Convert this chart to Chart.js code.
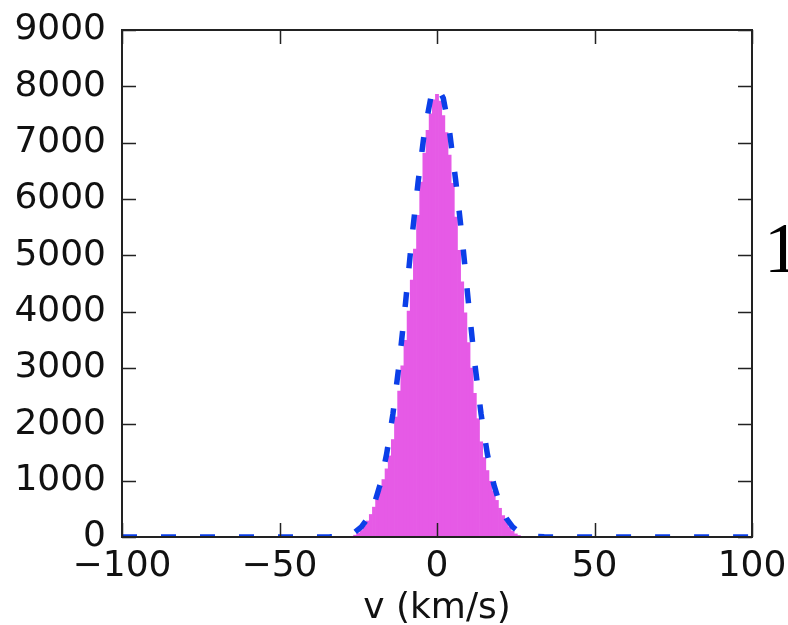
<!DOCTYPE html>
<html>
<head>
<meta charset="utf-8">
<script src="https://cdn.jsdelivr.net/npm/chart.js@4/dist/chart.umd.min.js"></script>
<style>
  html, body { margin: 0; padding: 0; background: #fff; overflow: hidden; }
  #wrap { position: relative; width: 788px; height: 625px; }
  #side-label {
    position: absolute; left: 764px; top: 212px;
    font-family: "Liberation Serif", "DejaVu Serif", serif;
    font-size: 72px; line-height: 1; color: #000;
  }
</style>
</head>
<body>
<div id="wrap">
  <canvas id="hist" width="788" height="625"></canvas>
  <div id="side-label">1</div>
</div>
<script>
// histogram bins (centre, km/s, 1 km/s wide) and counts
const binCentres = [-27, -26, -25, -24, -23, -22, -21, -20, -19, -18, -17, -16, -15, -14, -13, -12, -11, -10,
  -9, -8, -7, -6, -5, -4, -3, -2, -1, 0, 1, 2, 3, 4, 5, 6, 7, 8, 9,
  10, 11, 12, 13, 14, 15, 16, 17, 18, 19, 20, 21, 22, 23, 24, 25, 26, 27];
const binCounts = [12, 32, 65, 115, 195, 285, 400, 530, 670, 840, 1020, 1210, 1440, 1730, 2130, 2590, 3040, 3490,
  4010, 4560, 5110, 5710, 6300, 6810, 7220, 7510, 7760, 7860, 7740, 7480, 7180, 6780, 6280, 5680, 5090, 4530, 3980,
  3450, 3000, 2550, 2100, 1690, 1410, 1180, 990, 810, 650, 510, 380, 270, 180, 105, 55, 28, 10];

// dashed model curve
const fitV = [-100, -40, -34, -30, -28, -26, -24, -22, -20, -18, -16, -14, -12, -10, -8, -6, -4, -2, 0,
  2, 4, 6, 8, 10, 12, 14, 16, 18, 20, 22, 24, 26, 28, 30, 34, 40, 100];
const fitCounts = [0, 0, 3, 18, 40, 90, 180, 330, 570, 940, 1470, 2180, 3080, 4150, 5300, 6300, 7190, 7790, 8000,
  7790, 7190, 6300, 5300, 4150, 3080, 2180, 1470, 940, 570, 330, 180, 90, 40, 18, 3, 0, 0];

const xTickValues = [-100, -50, 0, 50, 100];
const yTickValues = [0, 1000, 2000, 3000, 4000, 5000, 6000, 7000, 8000, 9000];

const axisFont = { family: 'DejaVu Sans', size: 36 };

// frame and inward tick marks, drawn over the data like matplotlib does
const frameTicks = {
  id: 'frameTicks',
  afterDatasetsDraw(chart) {
    const { ctx, chartArea: a, scales } = chart;
    const len = 14;
    ctx.save();
    ctx.strokeStyle = '#222';
    ctx.lineWidth = 1.5;
    ctx.beginPath();
    xTickValues.forEach((v) => {
      const px = Math.round(scales.x.getPixelForValue(v)) + 0.5;
      ctx.moveTo(px, a.bottom); ctx.lineTo(px, a.bottom - len);
      ctx.moveTo(px, a.top); ctx.lineTo(px, a.top + len);
    });
    yTickValues.forEach((v) => {
      const py = Math.round(scales.y.getPixelForValue(v)) + 0.5;
      ctx.moveTo(a.left, py); ctx.lineTo(a.left + len, py);
      ctx.moveTo(a.right, py); ctx.lineTo(a.right - len, py);
    });
    ctx.stroke();
    ctx.lineWidth = 2;
    ctx.strokeRect(a.left, a.top, a.right - a.left, a.bottom - a.top);
    ctx.restore();
  },
};

// eslint-disable-next-line no-undef,no-unused-vars
const chart = new Chart(document.getElementById('hist').getContext('2d'), {
  type: 'bar',
  data: {
    datasets: [{
      type: 'line',
      data: fitV.map((v, i) => ({ x: v, y: fitCounts[i] })),
      borderColor: '#0b3fe8',
      borderWidth: 5.5,
      borderDash: [15, 24],
      pointRadius: 0,
      tension: 0,
      clip: 0,
      order: 0,
    }, {
      data: binCentres.map((v, i) => ({ x: v, y: binCounts[i] })),
      backgroundColor: '#e65ae6',
      borderWidth: 0,
      barPercentage: 1,
      categoryPercentage: 1,
      order: 1,
    }],
  },
  options: {
    responsive: false,
    animation: false,
    layout: { padding: { left: 0, right: 36, top: 30, bottom: 0 } },
    plugins: { legend: { display: false }, tooltip: { enabled: false } },
    scales: {
      x: {
        type: 'linear',
        offset: false,
        min: -100,
        max: 100,
        afterBuildTicks: (s) => { s.ticks = xTickValues.map((v) => ({ value: v })); },
        afterFit: (s) => {
          s.height = 88;
          s.paddingLeft = 0;
          s.paddingRight = 0;
        },
        grid: { display: false, drawTicks: false, offset: false },
        border: { display: false },
        ticks: {
          padding: 8,
          color: '#111',
          font: axisFont,
          maxRotation: 0,
          callback: (v) => String(v).replace('-', '\u2212'),
        },
        title: {
          display: true,
          text: 'v (km/s)',
          color: '#111',
          font: { family: 'DejaVu Sans', size: 36 },
          padding: { top: 0, bottom: -5 },
        },
      },
      y: {
        min: 0,
        max: 9000,
        afterBuildTicks: (s) => { s.ticks = yTickValues.map((v) => ({ value: v })); },
        afterFit: (s) => {
          s.width = 122;
          s.paddingTop = 0;
          s.paddingBottom = 0;
        },
        grid: { display: false, drawTicks: false },
        border: { display: false },
        ticks: { padding: 16, color: '#111', font: axisFont, callback: (v) => String(v) },
      },
    },
  },
  plugins: [frameTicks],
});
</script>
</body>
</html>
